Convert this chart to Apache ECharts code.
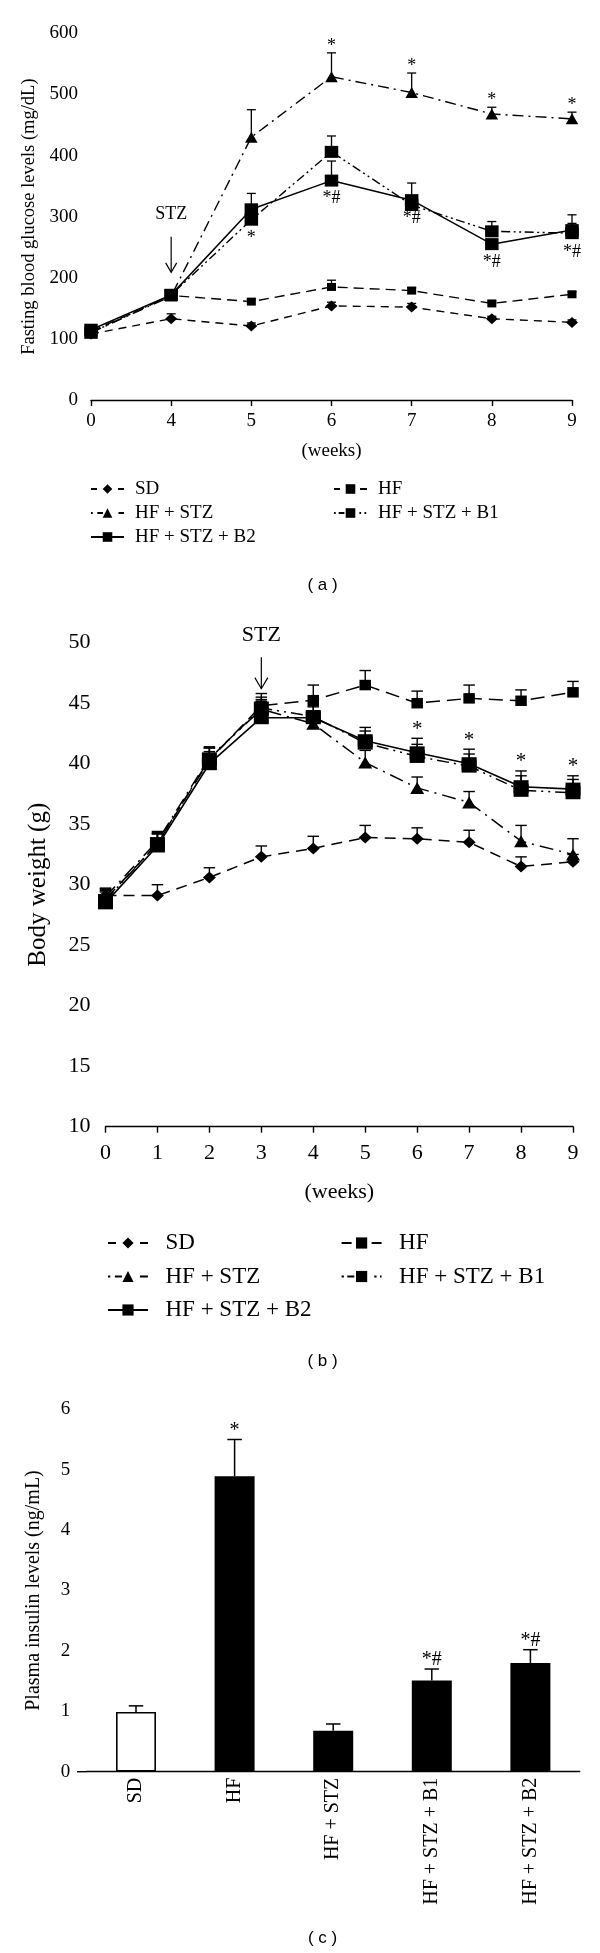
<!DOCTYPE html>
<html><head><meta charset="utf-8">
<script src="https://cdn.jsdelivr.net/npm/echarts@6/dist/echarts.min.js"></script>
<style>
html,body{margin:0;padding:0;background:#fff}
.c{position:absolute;left:0;width:600px}
#ca{top:0;height:600px}#cb{top:600px;height:775px}#cc{top:1375px;height:578px}
</style></head><body>
<div id="ca" class="c"></div><div id="cb" class="c"></div><div id="cc" class="c"></div>
<script>
// ---------- DATA ----------
const groupNames = ['SD', 'HF', 'HF + STZ', 'HF + STZ + B1', 'HF + STZ + B2'];

// (a) fasting blood glucose (mg/dL)
const glucoseWeeks = ['0', '4', '5', '6', '7', '8', '9'];
const glucoseSD     = [108, 133, 121, 154, 152, 133, 127];
const glucoseSDErr  = [4, 8, 5, 6, 6, 4, 4];
const glucoseHF     = [112, 171, 161, 185, 179, 158, 173];
const glucoseHFErr  = [4, 5, 4, 11, 5, 4, 4];
const glucoseSTZ    = [110, 170, 430, 529, 503, 468, 460];
const glucoseSTZErr = [4, 5, 45, 39, 32, 11, 11];
const glucoseB1     = [110, 172, 295, 406, 319, 276, 273];
const glucoseB1Err  = [4, 5, 10, 26, 10, 16, 16];
const glucoseB2     = [115, 172, 312, 359, 327, 255, 278];
const glucoseB2Err  = [4, 5, 26, 32, 28, 8, 25];
const glucoseAnnSTZ = ['', '', '', '*', '*', '*', '*'];
const glucoseAnnB1  = ['', '', '*', '', '', '', '*#'];
const glucoseAnnB2  = ['', '', '', '*#', '*#', '*#', ''];

// (b) body weight (g)
const weightWeeks = ['0', '1', '2', '3', '4', '5', '6', '7', '8', '9'];
const weightSD     = [29.1, 29.1, 30.6, 32.3, 33.0, 33.9, 33.8, 33.5, 31.5, 31.9];
const weightSDErr  = [0.6, 0.9, 0.8, 0.9, 1.0, 1.0, 0.9, 1.0, 0.8, 0.6];
const weightHF     = [28.8, 33.4, 40.3, 44.8, 45.25, 46.5, 45.0, 45.4, 45.2, 45.9];
const weightHFErr  = [0.8, 0.9, 1.0, 1.0, 1.25, 1.2, 1.0, 1.1, 0.9, 0.9];
const weightSTZ    = [29.0, 33.6, 40.5, 44.5, 43.3, 40.1, 38.0, 36.8, 33.6, 32.5];
const weightSTZErr = [0.7, 0.8, 0.9, 0.8, 0.9, 1.0, 0.9, 0.9, 1.3, 1.3];
const weightB1     = [28.7, 33.4, 40.4, 44.6, 43.9, 41.7, 40.6, 39.8, 37.8, 37.6];
const weightB1Err  = [0.8, 0.8, 0.9, 0.9, 0.9, 1.0, 1.0, 1.0, 1.2, 1.1];
const weightB2     = [28.5, 33.2, 40.0, 43.8, 43.8, 41.9, 40.9, 40.0, 38.1, 37.9];
const weightB2Err  = [0.9, 1.0, 1.0, 0.9, 0.9, 1.1, 1.2, 1.2, 1.3, 1.1];
const weightAnnB2  = ['', '', '', '', '', '', '*', '*', '*', '*'];

// (c) plasma insulin (ng/mL)
const insulinValues = [0.99, 4.89, 0.68, 1.51, 1.80];
const insulinErr    = [0.10, 0.61, 0.11, 0.19, 0.22];
const insulinAnn    = ['', '*', '', '*#', '*#'];

// STZ injection marker
const stzWeekA = '4';
const stzWeekB = '3';

// ---------- HELPERS ----------
const SERIF = 'Liberation Serif';
const SANS = 'Liberation Sans';

function lineSeries(name, data, symbol, size, dash, lw) {
  return { name, type: 'line', data, symbol, symbolSize: size, showSymbol: true,
    itemStyle: { color: '#000' }, lineStyle: { color: '#000', width: lw, type: dash }, z: 3 };
}
function errSeries(vals, errs, cap, lw) {
  return { type: 'custom', z: 5, silent: true, clip: false,
    data: vals.map((v, i) => [i, v, errs[i]]), encode: { x: 0, y: 1 },
    renderItem(params, api) {
      const i = api.value(0), v = api.value(1), e = api.value(2);
      const p0 = api.coord([i, v]), p1 = api.coord([i, v + e]);
      return { type: 'group', children: [
        { type: 'line', shape: { x1: p0[0], y1: p0[1], x2: p1[0], y2: p1[1] }, style: { stroke: '#000', lineWidth: lw } },
        { type: 'line', shape: { x1: p1[0] - cap / 2, y1: p1[1], x2: p1[0] + cap / 2, y2: p1[1] }, style: { stroke: '#000', lineWidth: lw } }
      ] };
    } };
}
function annSeries(anchors, texts, offset, fs) {
  return { type: 'custom', z: 6, silent: true, clip: false,
    data: anchors.map((v, i) => [i, v]), encode: { x: 0, y: 1 },
    renderItem(params, api) {
      const t = texts[params.dataIndex];
      if (!t) return null;
      const p = api.coord([api.value(0), api.value(1)]);
      return { type: 'text', x: p[0], y: p[1] + offset,
        style: { text: t, fill: '#000', font: fs + 'px "' + SERIF + '"', align: 'center', verticalAlign: 'middle' } };
    } };
}
const sumArr = (a, b) => a.map((v, i) => v + b[i]);
function axisBase(fs, margin, tickLen) {
  return { axisLine: { lineStyle: { color: '#000', width: 1.4 } },
    axisTick: { length: tickLen, lineStyle: { color: '#000', width: 1.4 } },
    axisLabel: { color: '#000', fontFamily: SERIF, fontSize: fs, margin },
    splitLine: { show: false } };
}
function stzGraphic(chart, idx, tv, v1, v2, fs, head) {
  const pt = chart.convertToPixel({ gridIndex: 0 }, [idx, tv]);
  const x = pt[0], ty = pt[1];
  const y1 = chart.convertToPixel({ gridIndex: 0 }, [idx, v1])[1];
  const y2 = chart.convertToPixel({ gridIndex: 0 }, [idx, v2])[1];
  return [
    { type: 'text', x, y: ty, style: { text: 'STZ', fill: '#000', font: fs + 'px "' + SERIF + '"', align: 'center', verticalAlign: 'middle' } },
    { type: 'line', shape: { x1: x, y1, x2: x, y2 }, style: { stroke: '#000', lineWidth: 1.2 } },
    { type: 'polyline', shape: { points: [[x - head, y2 - head * 1.7], [x, y2], [x + head, y2 - head * 1.7]] }, style: { stroke: '#000', fill: null, lineWidth: 1.2 } }
  ];
}
function panelLabel(t, y) {
  return { type: 'text', x: 322.6, y, style: { text: t, fill: '#000', font: '17px "' + SANS + '"', align: 'center', verticalAlign: 'middle' } };
}
function legendCol(names, dashes, left, top, iw, ih, gap, fs, tpad) {
  return { orient: 'vertical', left, top, itemWidth: iw, itemHeight: ih, itemGap: gap, padding: 0,
    data: names.map((n, k) => dashes[k] ? { name: n, lineStyle: { type: dashes[k] } } : n),
    textStyle: { fontFamily: SERIF, fontSize: fs, color: '#000', padding: [0, 0, 0, tpad] } };
}

// ---------- (a) ----------
const chartA = echarts.init(document.getElementById('ca'));
const dA = { SD: [8, 6], HF: [10, 6], STZ: [11, 5, 2, 5], B1: [9, 3.5, 2, 3.5, 2, 3.5] };
const lgA = { SD: [6, 21, 6], HF: [6, 20, 7], STZ: [1.7, 4.6, 5.7, 15.5, 6], B1: [1.7, 3, 5.7, 15, 1.7, 3.4, 1.7, 4] };
chartA.setOption({
  animation: false, backgroundColor: '#fff',
  grid: { left: 91, top: 33.3, width: 481, height: 366.7 },
  xAxis: Object.assign(axisBase(19, 12, 6), { type: 'category', data: glucoseWeeks, boundaryGap: false,
    name: '(weeks)', nameLocation: 'middle', nameGap: 42, nameTextStyle: { color: '#000', fontFamily: SERIF, fontSize: 19 } }),
  yAxis: Object.assign(axisBase(19, 13, 6), { type: 'value', min: 0, max: 600, interval: 100,
    name: 'Fasting blood glucose levels (mg/dL)', nameLocation: 'middle', nameRotate: 90, nameGap: 46,
    nameTextStyle: { color: '#000', fontFamily: SERIF, fontSize: 18.5 } }),
  legend: [
    legendCol([groupNames[0], groupNames[2], groupNames[4]], [lgA.SD, lgA.STZ, null], 90, 479.5, 33, 12, 5, 19, 6),
    legendCol([groupNames[1], groupNames[3]], [lgA.HF, lgA.B1], 333, 479.5, 33, 12, 5, 19, 6)
  ],
  series: [
    lineSeries(groupNames[0], glucoseSD, 'diamond', [12, 11], dA.SD, 1.4),
    lineSeries(groupNames[1], glucoseHF, 'rect', [9, 8], dA.HF, 1.4),
    lineSeries(groupNames[2], glucoseSTZ, 'triangle', [12.5, 11], dA.STZ, 1.4),
    lineSeries(groupNames[3], glucoseB1, 'rect', [13.5, 12], dA.B1, 1.4),
    lineSeries(groupNames[4], glucoseB2, 'rect', [13.5, 12], 'solid', 1.5),
    errSeries(glucoseSD, glucoseSDErr, 9, 1.3),
    errSeries(glucoseHF, glucoseHFErr, 9, 1.3),
    errSeries(glucoseSTZ, glucoseSTZErr, 9, 1.3),
    errSeries(glucoseB1, glucoseB1Err, 9, 1.3),
    errSeries(glucoseB2, glucoseB2Err, 9, 1.3),
    annSeries(sumArr(glucoseSTZ, glucoseSTZErr), glucoseAnnSTZ, -7, 18),
    annSeries(glucoseB1, glucoseAnnB1, 19, 18),
    annSeries(glucoseB2, glucoseAnnB2, 18, 18)
  ]
});
chartA.setOption({ graphic: stzGraphic(chartA, glucoseWeeks.indexOf(stzWeekA), 304, 267, 209, 18, 5.5).concat([panelLabel('( a )', 585)]) });

// ---------- (b) ----------
const chartB = echarts.init(document.getElementById('cb'));
const dB = { SD: [11, 7], HF: [14, 7], STZ: [14, 6, 2, 6], B1: [12, 5, 2, 5, 2, 5] };
const lgB = { SD: [8, 24, 8], HF: [10, 20, 10], STZ: [2.3, 4.6, 7, 18, 8], B1: [2.3, 3.4, 7, 20, 2.3, 3.4, 2.3, 4] };
chartB.setOption({
  animation: false, backgroundColor: '#fff',
  grid: { left: 105.5, top: 42.7, width: 467.5, height: 484 },
  xAxis: Object.assign(axisBase(22, 16, 6), { type: 'category', data: weightWeeks, boundaryGap: false,
    name: '(weeks)', nameLocation: 'middle', nameGap: 55, nameTextStyle: { color: '#000', fontFamily: SERIF, fontSize: 22 } }),
  yAxis: Object.assign(axisBase(22, 15, 6), { type: 'value', min: 10, max: 50, interval: 5,
    name: 'Body weight (g)', nameLocation: 'middle', nameRotate: 90, nameGap: 55,
    nameTextStyle: { color: '#000', fontFamily: SERIF, fontSize: 25 } }),
  legend: [
    legendCol([groupNames[0], groupNames[2], groupNames[4]], [lgB.SD, lgB.STZ, null], 107, 631.5, 40, 14, 10.5, 23, 12.5),
    legendCol([groupNames[1], groupNames[3]], [lgB.HF, lgB.B1], 340.6, 631.5, 40, 14, 10.5, 23, 12.5)
  ],
  series: [
    lineSeries(groupNames[0], weightSD, 'diamond', [13, 12], dB.SD, 1.5),
    lineSeries(groupNames[1], weightHF, 'rect', [11.5, 10.5], dB.HF, 1.5),
    lineSeries(groupNames[2], weightSTZ, 'triangle', [14, 12], dB.STZ, 1.5),
    lineSeries(groupNames[3], weightB1, 'rect', [15, 13], dB.B1, 1.5),
    lineSeries(groupNames[4], weightB2, 'rect', [15, 13], 'solid', 1.6),
    errSeries(weightSD, weightSDErr, 11.5, 1.4),
    errSeries(weightHF, weightHFErr, 11.5, 1.4),
    errSeries(weightSTZ, weightSTZErr, 11.5, 1.4),
    errSeries(weightB1, weightB1Err, 11.5, 1.4),
    errSeries(weightB2, weightB2Err, 11.5, 1.4),
    annSeries(sumArr(weightB2, weightB2Err), weightAnnB2, -9, 21)
  ]
});
chartB.setOption({ graphic: stzGraphic(chartB, weightWeeks.indexOf(stzWeekB), 50.6, 48.8, 46.2, 22, 6.5).concat([panelLabel('( b )', 761.7)]) });

// ---------- (c) ----------
const chartC = echarts.init(document.getElementById('cc'));
chartC.setOption({
  animation: false, backgroundColor: '#fff',
  grid: { left: 86.7, top: 34.3, width: 493, height: 362.4 },
  xAxis: Object.assign(axisBase(20, 6, 0), { type: 'category', data: groupNames, boundaryGap: true,
    axisTick: { show: false } }),
  yAxis: Object.assign(axisBase(19, 16.5, 9), { type: 'value', min: 0, max: 6, interval: 1,
    name: 'Plasma insulin levels (ng/mL)', nameLocation: 'middle', nameRotate: 90, nameGap: 43,
    nameTextStyle: { color: '#000', fontFamily: SERIF, fontSize: 20 } }),
  series: [
    { type: 'bar', barWidth: 40, z: 3,
      data: insulinValues.map((v, i) => ({ value: v, itemStyle: i === 0 ? { color: '#fff', borderColor: '#000', borderWidth: 1.6 } : { color: '#000' } })) },
    errSeries(insulinValues, insulinErr, 14.5, 1.5),
    annSeries(sumArr(insulinValues, insulinErr), insulinAnn, -9, 20)
  ]
});
const c0 = chartC.convertToPixel({ gridIndex: 0 }, [0, 0]);
chartC.setOption({ xAxis: { axisLabel: { rotate: 90, interval: 0 } },
  graphic: [panelLabel('( c )', 563),
    { type: 'line', shape: { x1: 77, y1: c0[1], x2: 86.7, y2: c0[1] }, style: { stroke: '#000', lineWidth: 1.4 } }] });
</script></body></html>
